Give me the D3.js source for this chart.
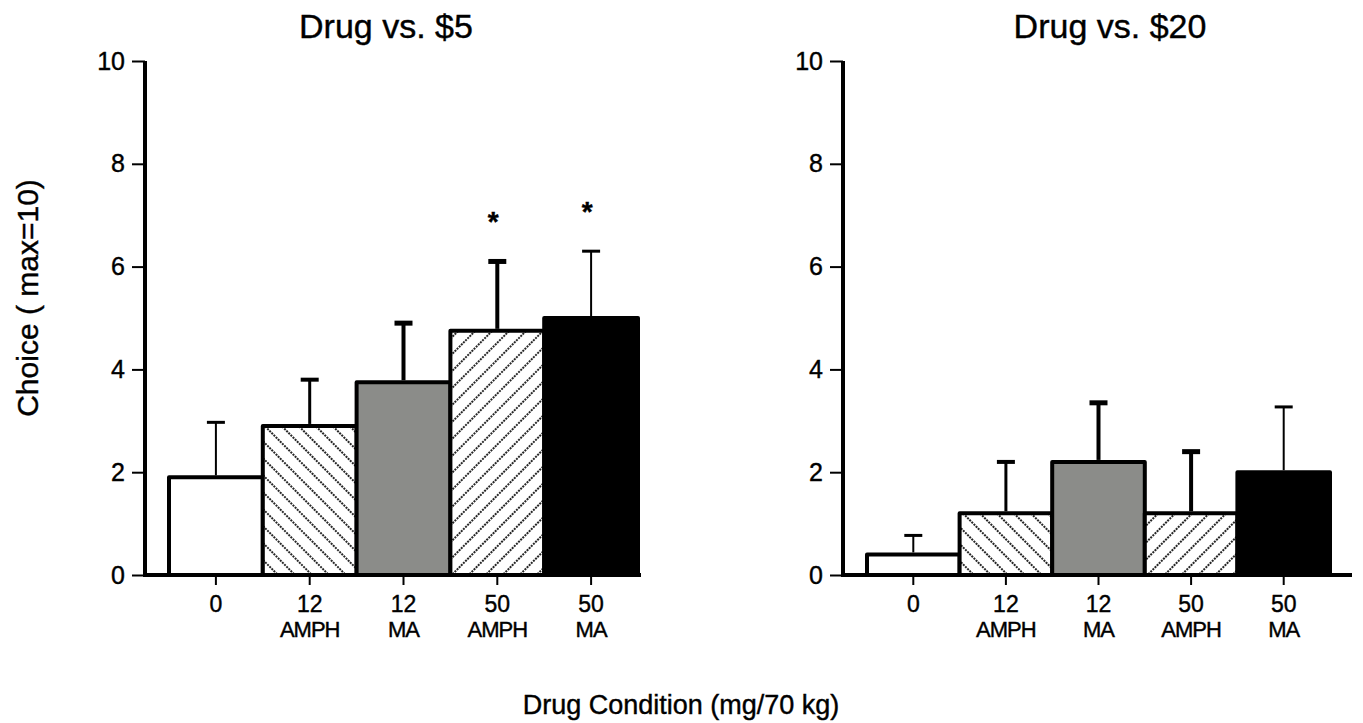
<!DOCTYPE html>
<html>
<head>
<meta charset="utf-8">
<script src="https://cdn.jsdelivr.net/npm/d3@7"></script>
<style>
  body { margin: 0; background: #fff; }
  text { font-family: "Liberation Sans", Arial, sans-serif; stroke: #000; stroke-width: 0.4px; }
</style>
</head>
<body>
<svg id="chart"></svg>
<script>
// data
const conditions = ['0', '12 AMPH', '12 MA', '50 AMPH', '50 MA'];
const doseLabels = ['0', '12', '12', '50', '50'];
const drugLabels = ['', 'AMPH', 'MA', 'AMPH', 'MA'];
const meansVs5 = [1.9, 2.9, 3.75, 4.75, 5.0];
const semVs5 = [1.07, 0.9, 1.15, 1.35, 1.3];
const sigVs5 = [false, false, false, true, true];
const meansVs20 = [0.4, 1.2, 2.2, 1.2, 2.0];
const semVs20 = [0.37, 1.0, 1.15, 1.2, 1.27];
const sigVs20 = [false, false, false, false, false];
const yTicks = [0, 2, 4, 6, 8, 10];

const svg = d3.select('#chart').attr('width', 1363).attr('height', 723);

// fills per condition
const defs = svg.append('defs');
function hatch(id, angle) {
  const p = defs.append('pattern')
    .attr('id', id)
    .attr('patternUnits', 'userSpaceOnUse')
    .attr('width', 12).attr('height', 12)
    .attr('patternTransform', `rotate(${angle})`);
  p.append('rect').attr('width', 12).attr('height', 12).attr('fill', '#fff');
  p.append('line')
    .attr('x1', 6).attr('y1', 0).attr('x2', 6).attr('y2', 12)
    .attr('stroke', '#000')
    .attr('stroke-width', 1.7)
    .attr('stroke-dasharray', '2,1');
}
hatch('back', -45);
hatch('fwd', 45);
const fills = ['#fff', 'url(#back)', '#8b8c89', 'url(#fwd)', '#000'];
const errWidths = [2, 3, 4, 4, 2];

function panel(opts) {
  const y = d3.scaleLinear().domain([0, 10]).range([575, 61]);
  const x = d3.scaleBand().domain(conditions).range(opts.bars).padding(0);
  const g = svg.append('g');
  const cx = (i) => x(conditions[i]) + x.bandwidth() / 2;

  // bars
  g.selectAll('rect.bar')
    .data(opts.means)
    .enter()
    .append('rect')
    .attr('class', 'bar')
    .attr('x', (d, i) => x(conditions[i]))
    .attr('y', (d) => y(d))
    .attr('width', x.bandwidth())
    .attr('height', (d) => y(0) - y(d))
    .attr('fill', (d, i) => fills[i])
    .attr('stroke', '#000')
    .attr('stroke-width', 4)
    .attr('stroke-linejoin', 'round');

  // error bars (upper only)
  const eb = g.selectAll('g.err')
    .data(opts.means)
    .enter()
    .append('g');
  eb.append('line')
    .attr('x1', (d, i) => cx(i))
    .attr('x2', (d, i) => cx(i))
    .attr('y1', (d) => y(d) - 2)
    .attr('y2', (d, i) => y(d + opts.sem[i]))
    .attr('stroke', '#000')
    .attr('stroke-width', (d, i) => errWidths[i]);
  eb.append('line')
    .attr('x1', (d, i) => cx(i) - 9)
    .attr('x2', (d, i) => cx(i) + 9)
    .attr('y1', (d, i) => y(d + opts.sem[i]))
    .attr('y2', (d, i) => y(d + opts.sem[i]))
    .attr('stroke', '#000')
    .attr('stroke-width', (d, i) => errWidths[i] + 1);

  // significance stars
  opts.sig.forEach((s, i) => {
    if (!s) return;
    g.append('text')
      .attr('x', cx(i) - 4)
      .attr('y', y(opts.means[i] + opts.sem[i]) - 30)
      .attr('text-anchor', 'middle')
      .attr('font-size', 28)
      .attr('font-weight', 'bold')
      .text('*');
  });

  // y axis
  const yAxis = g.append('g')
    .attr('transform', `translate(${opts.axisX},0)`)
    .call(d3.axisLeft(y).tickValues(yTicks).tickSize(13).tickSizeOuter(0).tickPadding(7));
  yAxis.select('.domain').remove();
  yAxis.selectAll('.tick line').attr('stroke-width', 2);
  yAxis.selectAll('.tick text')
    .attr('font-size', 25)
    .attr('fill', '#000')
    .attr('font-family', '"Liberation Sans", Arial, sans-serif');
  g.append('line')
    .attr('x1', opts.axisX).attr('x2', opts.axisX)
    .attr('y1', y(10)).attr('y2', y(0) + 2)
    .attr('stroke', '#000').attr('stroke-width', 4);

  // x axis
  g.append('line')
    .attr('x1', opts.axisX - 2).attr('x2', opts.axisEnd)
    .attr('y1', y(0)).attr('y2', y(0))
    .attr('stroke', '#000').attr('stroke-width', 4);
  const xAxis = g.append('g')
    .attr('transform', `translate(0,${y(0) + 2})`)
    .call(d3.axisBottom(x).tickSize(8).tickSizeOuter(0).tickFormat(''));
  xAxis.select('.domain').remove();
  xAxis.selectAll('.tick line').attr('stroke-width', 2);
  xAxis.selectAll('.tick')
    .append('text')
    .attr('y', 35)
    .attr('fill', '#000')
    .attr('font-size', 23)
    .attr('font-family', '"Liberation Sans", Arial, sans-serif')
    .attr('text-anchor', 'middle')
    .text((d, i) => doseLabels[i]);
  xAxis.selectAll('.tick')
    .append('text')
    .attr('y', 60)
    .attr('fill', '#000')
    .attr('font-size', 22)
    .attr('font-family', '"Liberation Sans", Arial, sans-serif')
    .attr('letter-spacing', -1)
    .attr('text-anchor', 'middle')
    .text((d, i) => drugLabels[i]);

  // title
  g.append('text')
    .attr('x', opts.titleX)
    .attr('y', 38)
    .attr('text-anchor', 'middle')
    .attr('font-size', 34)
    .text(opts.title);
}

panel({
  title: 'Drug vs. $5', titleX: 386,
  means: meansVs5, sem: semVs5, sig: sigVs5,
  axisX: 145, axisEnd: 641, bars: [169, 638]
});
panel({
  title: 'Drug vs. $20', titleX: 1110,
  means: meansVs20, sem: semVs20, sig: sigVs20,
  axisX: 843, axisEnd: 1352, bars: [867, 1330]
});

svg.append('text')
  .attr('transform', 'translate(38,298) rotate(-90)')
  .attr('text-anchor', 'middle')
  .attr('font-size', 30)
  .text('Choice ( max=10)');

svg.append('text')
  .attr('x', 681)
  .attr('y', 714)
  .attr('text-anchor', 'middle')
  .attr('font-size', 27)
  .text('Drug Condition (mg/70 kg)');
</script>
</body>
</html>
